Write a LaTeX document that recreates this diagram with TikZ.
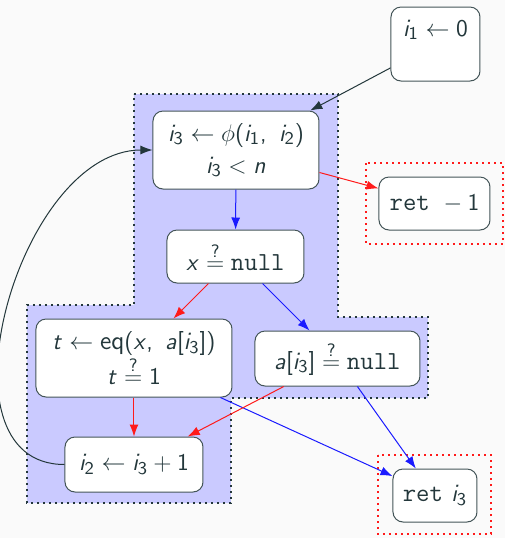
\documentclass[tikz,border=0pt]{standalone}
\usetikzlibrary{arrows.meta}
% sans serif letters, digits and signs in math
\DeclareSymbolFont{cfgsfup}{OT1}{cmss}{m}{n}
\DeclareSymbolFont{cfgsfsl}{OT1}{cmss}{m}{sl}
\DeclareMathSymbol{a}{\mathalpha}{cfgsfsl}{`a}
\DeclareMathSymbol{i}{\mathalpha}{cfgsfsl}{`i}
\DeclareMathSymbol{n}{\mathalpha}{cfgsfsl}{`n}
\DeclareMathSymbol{t}{\mathalpha}{cfgsfsl}{`t}
\DeclareMathSymbol{x}{\mathalpha}{cfgsfsl}{`x}
\DeclareMathSymbol{0}{\mathalpha}{cfgsfup}{`0}
\DeclareMathSymbol{1}{\mathalpha}{cfgsfup}{`1}
\DeclareMathSymbol{2}{\mathalpha}{cfgsfup}{`2}
\DeclareMathSymbol{3}{\mathalpha}{cfgsfup}{`3}
\DeclareMathSymbol{(}{\mathopen}{cfgsfup}{`(}
\DeclareMathSymbol{)}{\mathclose}{cfgsfup}{`)}
\DeclareMathSymbol{[}{\mathopen}{cfgsfup}{`[}
\DeclareMathSymbol{]}{\mathclose}{cfgsfup}{`]}
\DeclareMathSymbol{?}{\mathclose}{cfgsfup}{`?}
\DeclareMathSymbol{,}{\mathpunct}{cfgsfup}{`,}
\definecolor{cfgInk}{HTML}{23373B}
\definecolor{cfgBack}{HTML}{FAFAFA}
\definecolor{cfgLoop}{HTML}{CACAFF}
\definecolor{cfgRed}{HTML}{FF1A1A}
\definecolor{cfgBlue}{HTML}{1A1AFF}
\tikzset{
  cfg block/.style={fill=cfgLoop, draw=cfgInk, dotted, line width=1pt},
  cfg exit/.style={draw=cfgRed, dotted, line width=1pt},
  cfg node/.style={draw=cfgInk!85, fill=white, rounded corners=5pt, line width=0.5pt, inner sep=2pt, align=center, text=cfgInk, font=\fontsize{13}{16}\selectfont\sffamily},
  cfg edge/.style={line width=0.5pt, -{Latex[length=6pt,width=4.5pt]}},
  cfg true/.style={cfg edge, draw=cfgBlue},
  cfg false/.style={cfg edge, draw=cfgRed},
  cfg jump/.style={cfg edge, draw=cfgInk},
}

\begin{document}
\begin{tikzpicture}[x=0.5pt,y=-0.5pt]
\fill[cfgBack](0,0)rectangle(505,538);
\useasboundingbox(0,0)rectangle(505,538);
% loop body and exits
\draw[cfg block](134,94)-|(338,317)-|(428,398)-|(231,503)-|(27,305)-|(134,94)--cycle;
\draw[cfg exit](366,163)rectangle(503,244);
\draw[cfg exit](378,455)rectangle(491,534);
% blocks
\node[cfg node,minimum width=44.5pt,minimum height=37pt](init)at(435.5,44){$i_1 \leftarrow 0$\\ \mbox{}};
\node[cfg node,minimum width=83pt,minimum height=39pt](phi)at(236,150){$i_3 \leftarrow \phi(i_1,\ i_2)$\\ $i_3 < n$};
\node[cfg node,minimum width=68.5pt,minimum height=26.5pt](xnull)at(235.5,256.5){$x \stackrel{?}{=} \texttt{null}$};
\node[cfg node,minimum width=98pt,minimum height=39pt](teq)at(134,358){$t \leftarrow \textsf{eq}(x,\ a[i_3])$\\ $t \stackrel{?}{=} 1$};
\node[cfg node,minimum width=69pt,minimum height=27.5pt](inc)at(134,464.5){$i_2 \leftarrow i_3 + 1$};
\node[cfg node,minimum width=82.5pt,minimum height=27.5pt](anull)at(337.5,358.5){$a[i_3] \stackrel{?}{=} \texttt{null}$};
\node[cfg node,minimum width=55.5pt,minimum height=26.5pt](retm)at(434.5,203.5){$\texttt{ret}\ - 1$};
\node[cfg node,minimum width=42pt,minimum height=26.5pt](reti)at(435,495.5){\texttt{ret} $i_3$};
% edges
\draw[cfg jump](init)--(phi);
\draw[cfg true](phi)--(xnull);
\draw[cfg false](phi)--(retm);
\draw[cfg false](xnull)--(teq);
\draw[cfg true](xnull)--(anull);
\draw[cfg false](teq)--(inc);
\draw[cfg true](teq)--(reti);
\draw[cfg false](anull)--(inc);
\draw[cfg true](anull)--(reti);
\draw[cfg jump](inc.west)to[out=180,in=180,looseness=1.05](phi.west);
\end{tikzpicture}
\end{document}
